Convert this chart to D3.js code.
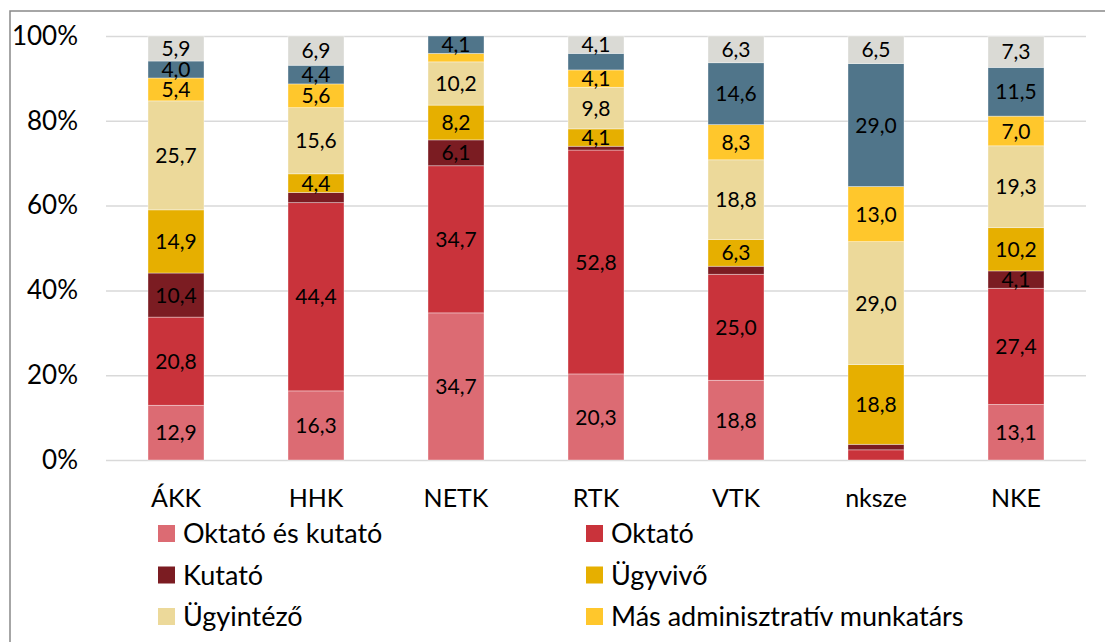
<!DOCTYPE html>
<html>
<head>
<meta charset="utf-8">
<script src="https://cdn.jsdelivr.net/npm/d3@7"></script>
<style>
    body { margin: 0; background: #fff; }
    svg { display: block; font-family: Lato, "Open Sans", sans-serif; }
</style>
</head>
<body>
<svg width="1105" height="642"></svg>
<script>
const categories = ["ÁKK", "HHK", "NETK", "RTK", "VTK", "nksze", "NKE"];

// series, bottom to top of each bar
const oktatoKutato = [12.9, 16.3, 34.7, 20.3, 18.8, 0.0, 13.1];
const oktato       = [20.8, 44.4, 34.7, 52.8, 25.0, 2.4, 27.4];
const kutato       = [10.4, 2.4, 6.1, 0.9, 1.9, 1.3, 4.1];
const ugyvivo      = [14.9, 4.4, 8.2, 4.1, 6.3, 18.8, 10.2];
const ugyintezo    = [25.7, 15.6, 10.2, 9.8, 18.8, 29.0, 19.3];
const masAdmin     = [5.4, 5.6, 2.0, 4.1, 8.3, 13.0, 7.0];
const kekSor       = [4.0, 4.4, 4.1, 3.9, 14.6, 29.0, 11.5];   // legend entry cut off in the picture
const szurkeSor    = [5.9, 6.9, 0.0, 4.1, 6.3, 6.5, 7.3];      // legend entry cut off in the picture

const yTicks = [0, 20, 40, 60, 80, 100];

const series = [
    { key: "ok", name: "Oktató és kutató", values: oktatoKutato, color: "#dc6b73" },
    { key: "o",  name: "Oktató", values: oktato, color: "#c9333b" },
    { key: "k",  name: "Kutató", values: kutato, color: "#7b1c22" },
    { key: "uv", name: "Ügyvivő", values: ugyvivo, color: "#e6af00" },
    { key: "ui", name: "Ügyintéző", values: ugyintezo, color: "#ecd99a" },
    { key: "ma", name: "Más adminisztratív munkatárs", values: masAdmin, color: "#ffc72c" },
    { key: "b",  name: null, values: kekSor, color: "#50758a" },
    { key: "g",  name: null, values: szurkeSor, color: "#dadad5" }
];

const svg = d3.select("svg");

// table for d3.stack
const rows = categories.map((c, i) => {
    const r = { cat: c };
    series.forEach(s => { r[s.key] = s.values[i]; });
    return r;
});
const stacked = d3.stack().keys(series.map(s => s.key))(rows);

const x = d3.scaleBand()
    .domain(categories)
    .range([106, 1086])
    .paddingInner(0.6)
    .paddingOuter(0.3);

const y = d3.scaleLinear()
    .domain([0, 100])
    .range([460, 36]);

// outer frame
svg.append("rect")
    .attr("x", 10)
    .attr("y", 11)
    .attr("width", 1110)
    .attr("height", 700)
    .attr("fill", "none")
    .attr("stroke", "#898989")
    .attr("stroke-width", 1.5);

// gridlines + y labels
const yAxis = svg.append("g")
    .attr("transform", "translate(106,0)")
    .call(d3.axisLeft(y)
        .tickValues(yTicks)
        .tickSize(-980)
        .tickPadding(28)
        .tickFormat(d => d + "%"));
yAxis.select(".domain").remove();
yAxis.selectAll(".tick line")
    .attr("stroke", "#d9d9d9")
    .attr("stroke-width", 1.5);
yAxis.selectAll(".tick text")
    .attr("fill", "#000")
    .style("font-size", "26px")
    .style("font-family", "Lato, sans-serif");

// bars
const layer = svg.append("g")
    .selectAll("g")
    .data(stacked)
    .enter()
    .append("g")
    .attr("fill", (d, i) => series[i].color);

layer.selectAll("rect")
    .data(d => d)
    .enter()
    .append("rect")
    .attr("x", d => x(d.data.cat))
    .attr("width", x.bandwidth())
    .attr("y", d => y(d[1]))
    .attr("height", d => y(d[0]) - y(d[1]))
    .attr("stroke", "#fff")
    .attr("stroke-opacity", 0.45)
    .attr("stroke-width", 0.8);

// value labels (small segments are not labelled)
layer.selectAll("text")
    .data(d => d.filter(v => v[1] - v[0] >= 4))
    .enter()
    .append("text")
    .attr("x", d => x(d.data.cat) + x.bandwidth() / 2)
    .attr("y", d => y((d[0] + d[1]) / 2))
    .attr("dy", "0.36em")
    .attr("text-anchor", "middle")
    .attr("fill", "#000")
    .style("font-size", "21px")
    .text(d => (d[1] - d[0]).toFixed(1).replace(".", ","));

// category labels
const xAxis = svg.append("g")
    .attr("transform", "translate(0,460)")
    .call(d3.axisBottom(x).tickSize(0).tickPadding(29));
xAxis.select(".domain").remove();
xAxis.selectAll(".tick text")
    .attr("fill", "#000")
    .style("font-size", "25px")
    .style("font-family", "Lato, sans-serif");

// legend, two columns, row-major
const legendItems = series.filter(s => s.name);
const legend = svg.append("g")
    .selectAll("g")
    .data(legendItems)
    .enter()
    .append("g")
    .attr("transform", (d, i) => `translate(${i % 2 === 0 ? 158 : 586},${533.5 + Math.floor(i / 2) * 41.5})`);

legend.append("rect")
    .attr("x", 0)
    .attr("y", -8.5)
    .attr("width", 17)
    .attr("height", 17)
    .attr("fill", d => d.color);

legend.append("text")
    .attr("x", 25)
    .attr("dy", "0.36em")
    .attr("fill", "#000")
    .style("font-size", "27px")
    .text(d => d.name);
</script>
</body>
</html>
